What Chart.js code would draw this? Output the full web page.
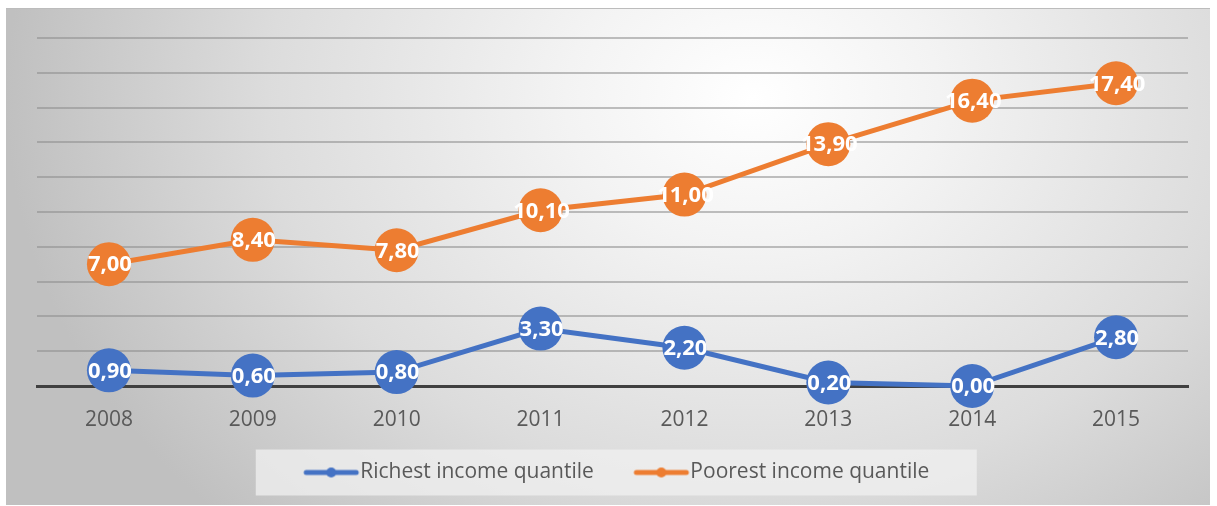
<!DOCTYPE html>
<html>
<head>
<meta charset="utf-8">
<title>Income quantiles 2008-2015</title>
<script src="https://cdn.jsdelivr.net/npm/chart.js@4/dist/chart.umd.min.js"></script>
<style>
  html, body { margin: 0; padding: 0; background: #ffffff; }
  #frame {
    position: absolute;
    left: 6px;
    top: 8px;
    width: 1204px;
    height: 497px;
    border-top: 1px solid #bcbcbc;
    box-sizing: border-box;
    background: radial-gradient(ellipse 62% 120% at 62% 18%, #ffffff 0%, #f3f3f3 25%, #dcdcdc 65%, #c0c0c0 100%);
  }
  #incomeChart { display: block; }
</style>
</head>
<body>
<div id="frame">
  <canvas id="incomeChart" width="1204" height="496"></canvas>
</div>
<script>
const years = ['2008', '2009', '2010', '2011', '2012', '2013', '2014', '2015'];
const richest = [0.90, 0.60, 0.80, 3.30, 2.20, 0.20, 0.00, 2.80];
const poorest = [7.00, 8.40, 7.80, 10.10, 11.00, 13.90, 16.40, 17.40];
const seriesNames = ['Richest income quantile', 'Poorest income quantile'];

const BLUE = '#4472C4';
const ORANGE = '#ED7D31';
const FONT = '"Open Sans", "DejaVu Sans", sans-serif';

// line-with-dot legend symbol; the blank left margin spaces the two entries apart
const MARK_SHIFT = 16;
function legendMark(color) {
  const c = document.createElement('canvas');
  c.width = MARK_SHIFT + 58;
  c.height = 12;
  const g = c.getContext('2d');
  g.strokeStyle = color;
  g.lineWidth = 5;
  g.lineCap = 'round';
  g.beginPath();
  g.moveTo(MARK_SHIFT + 4, 6);
  g.lineTo(MARK_SHIFT + 54, 6);
  g.stroke();
  g.fillStyle = color;
  g.beginPath();
  g.arc(MARK_SHIFT + 29, 6, 5, 0, Math.PI * 2);
  g.fill();
  return c;
}
const legendMarks = [legendMark(BLUE), legendMark(ORANGE)];

function fmt(v) {
  return v.toFixed(2).replace('.', ',');
}

// light panel behind the legend items
const legendPanel = {
  id: 'legendPanel',
  beforeDraw(chart) {
    const lg = chart.legend;
    if (!lg || !lg.legendHitBoxes.length) return;
    const boxes = lg.legendHitBoxes;
    const first = boxes[0];
    const last = boxes[boxes.length - 1];
    const cx = (first.left + 11.5 + last.left + last.width) / 2 - 2.5;
    const cy = first.top + first.height / 2;
    const ctx = chart.ctx;
    ctx.save();
    ctx.fillStyle = 'rgba(240, 240, 240, 0.75)';
    ctx.fillRect(cx - 360.5, cy - 23, 721, 46);
    ctx.restore();
  }
};

// value labels written inside each point
const pointLabels = {
  id: 'pointLabels',
  afterDatasetsDraw(chart) {
    const ctx = chart.ctx;
    ctx.save();
    ctx.font = 'bold 22px ' + FONT;
    ctx.fillStyle = '#ffffff';
    ctx.textAlign = 'center';
    ctx.textBaseline = 'middle';
    chart.data.datasets.forEach((ds, i) => {
      const meta = chart.getDatasetMeta(i);
      meta.data.forEach((pt, j) => {
        ctx.fillText(fmt(ds.data[j]), pt.x + 1, pt.y + 1);
      });
    });
    ctx.restore();
  }
};

new Chart(document.getElementById('incomeChart'), {
  type: 'line',
  data: {
    labels: years,
    datasets: [
      {
        label: seriesNames[0],
        data: richest,
        borderColor: BLUE,
        backgroundColor: BLUE,
        borderWidth: 5,
        pointRadius: 22,
        pointHoverRadius: 22,
        pointBackgroundColor: BLUE,
        pointBorderWidth: 0,
        tension: 0,
        clip: false
      },
      {
        label: seriesNames[1],
        data: poorest,
        borderColor: ORANGE,
        backgroundColor: ORANGE,
        borderWidth: 5,
        pointRadius: 22,
        pointHoverRadius: 22,
        pointBackgroundColor: ORANGE,
        pointBorderWidth: 0,
        tension: 0,
        clip: false
      }
    ]
  },
  options: {
    responsive: false,
    animation: false,
    layout: {
      padding: { left: 31, right: 21, top: 29, bottom: 12 }
    },
    plugins: {
      tooltip: { enabled: false },
      legend: {
        display: true,
        position: 'bottom',
        labels: {
          usePointStyle: true,
          pointStyleWidth: 53,
          padding: 33,
          color: '#595959',
          font: { family: FONT, size: 21 },
          generateLabels(chart) {
            const items = Chart.defaults.plugins.legend.labels.generateLabels(chart);
            items.forEach((it, i) => { it.pointStyle = legendMarks[i]; });
            return items;
          }
        }
      }
    },
    scales: {
      x: {
        offset: true,
        grid: { display: false, drawTicks: false },
        border: { display: true, color: '#404040', width: 3 },
        ticks: {
          color: '#595959',
          padding: 24,
          font: { family: FONT, size: 21, lineHeight: 1 }
        },
        // keep the axis band tight so the legend sits close under the year labels
        afterFit(scale) { scale.height = 43; }
      },
      y: {
        min: 0,
        max: 20,
        ticks: { display: false, stepSize: 2 },
        grid: { color: 'rgba(140, 140, 140, 0.55)', lineWidth: 2, drawTicks: false },
        border: { display: false },
        afterFit(scale) { scale.width = 0; }
      }
    }
  },
  plugins: [legendPanel, pointLabels]
});
</script>
</body>
</html>
